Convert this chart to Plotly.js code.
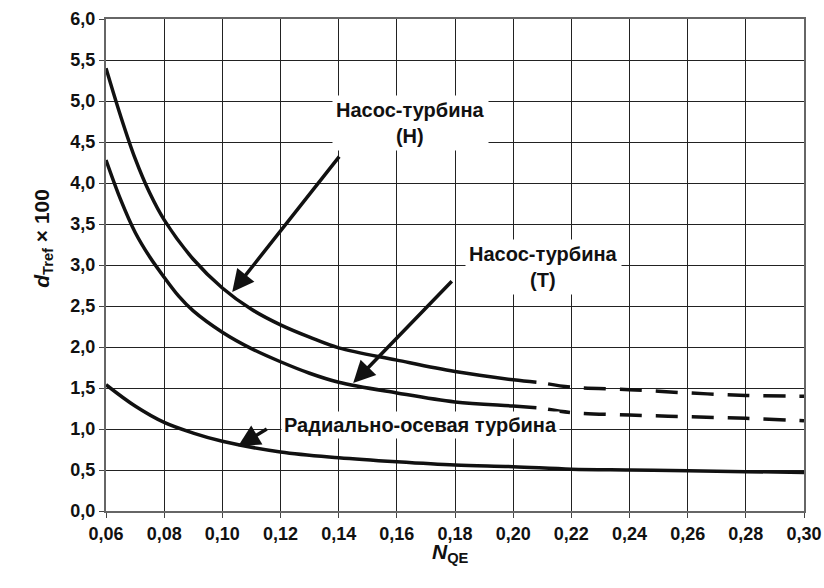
<!DOCTYPE html>
<html>
<head>
<meta charset="utf-8">
<script src="https://cdn.plot.ly/plotly-3.0.1.min.js"></script>
<style>html,body{margin:0;padding:0;background:#fff;}#chart{width:824px;height:588px;}</style>
</head>
<body>
<div id="chart"></div>
<script>
// Pump-turbine (H) curve
const xH = [0.06, 0.065, 0.07, 0.075, 0.08, 0.09, 0.10, 0.11, 0.12, 0.13, 0.14, 0.16, 0.18, 0.20, 0.208];
const yH = [5.40, 4.82, 4.30, 3.88, 3.55, 3.07, 2.72, 2.46, 2.27, 2.12, 1.99, 1.84, 1.70, 1.60, 1.57];
const xHd = [0.212, 0.22, 0.24, 0.26, 0.28, 0.30];
const yHd = [1.55, 1.51, 1.48, 1.44, 1.41, 1.40];
// Pump-turbine (T) curve
const xT = [0.06, 0.065, 0.07, 0.075, 0.08, 0.085, 0.09, 0.10, 0.11, 0.12, 0.13, 0.14, 0.16, 0.18, 0.20, 0.208];
const yT = [4.28, 3.80, 3.40, 3.10, 2.85, 2.62, 2.44, 2.18, 1.98, 1.82, 1.68, 1.57, 1.44, 1.33, 1.28, 1.26];
const xTd = [0.212, 0.22, 0.24, 0.26, 0.28, 0.30];
const yTd = [1.24, 1.20, 1.17, 1.15, 1.13, 1.10];
// Francis (radial-axial) turbine curve
const xR = [0.06, 0.07, 0.08, 0.09, 0.10, 0.12, 0.14, 0.16, 0.18, 0.20, 0.22, 0.24, 0.26, 0.28, 0.30];
const yR = [1.54, 1.28, 1.08, 0.95, 0.85, 0.72, 0.65, 0.60, 0.56, 0.54, 0.51, 0.50, 0.49, 0.48, 0.47];

const xTicks = [0.06, 0.08, 0.10, 0.12, 0.14, 0.16, 0.18, 0.20, 0.22, 0.24, 0.26, 0.28, 0.30];
const yTicks = [0, 0.5, 1, 1.5, 2, 2.5, 3, 3.5, 4, 4.5, 5, 5.5, 6];

const labelH = 'Насос-турбина<br>(Н)';
const labelT = 'Насос-турбина<br>(Т)';
const labelR = 'Радиально-осевая турбина';

const solid = {color: '#111', width: 3.5, shape: 'spline', smoothing: 1};
const dashed = {color: '#111', width: 3.5, dash: '22px,14px', shape: 'spline', smoothing: 1};

const traces = [
  {x: xH, y: yH, mode: 'lines', line: solid, hoverinfo: 'skip'},
  {x: xHd, y: yHd, mode: 'lines', line: dashed, hoverinfo: 'skip'},
  {x: xT, y: yT, mode: 'lines', line: solid, hoverinfo: 'skip'},
  {x: xTd, y: yTd, mode: 'lines', line: dashed, hoverinfo: 'skip'},
  {x: xR, y: yR, mode: 'lines', line: solid, hoverinfo: 'skip'}
];

const fontFam = '"Liberation Sans", Arial, sans-serif';
const annFont = {family: fontFam, size: 20, color: '#111', weight: 700};
const tickFont = {family: fontFam, size: 18, color: '#111', weight: 700};

function arrow(tipX, tipY, tailX, tailY) {
  return {x: tipX, y: tipY, ax: tailX, ay: tailY, xref: 'x', yref: 'y', axref: 'x', ayref: 'y',
    text: '', showarrow: true, arrowhead: 2, arrowsize: 1.25, arrowwidth: 3.5, arrowcolor: '#111', standoff: 0};
}

const layout = {
  width: 824, height: 588,
  margin: {l: 106, r: 20, t: 19, b: 77},
  paper_bgcolor: '#fff', plot_bgcolor: '#fff',
  separators: ', ',
  showlegend: false,
  font: {family: fontFam, size: 18, color: '#111'},
  xaxis: {
    range: [0.06, 0.30], tickvals: xTicks, tickformat: '.2f',
    showgrid: true, gridcolor: '#222', gridwidth: 1,
    showline: true, linecolor: '#666', linewidth: 2, mirror: true,
    ticks: 'outside', ticklen: 5, tickcolor: '#444',
    zeroline: false, tickfont: tickFont
  },
  yaxis: {
    range: [0, 6], tickvals: yTicks, tickformat: '.1f',
    showgrid: true, gridcolor: '#222', gridwidth: 1,
    showline: true, linecolor: '#666', linewidth: 2, mirror: true,
    ticks: 'outside', ticklen: 5, tickcolor: '#444',
    zeroline: false, tickfont: tickFont
  },
  annotations: [
    arrow(0.1034, 2.67, 0.1406, 4.34),
    arrow(0.145, 1.56, 0.1794, 2.82),
    arrow(0.1054, 0.79, 0.1158, 1.01),
    {x: 0.1647, y: 4.73, xref: 'x', yref: 'y', text: labelH, showarrow: false,
      font: annFont, bgcolor: '#fff', align: 'center', borderpad: 3},
    {x: 0.2104, y: 2.98, xref: 'x', yref: 'y', text: labelT, showarrow: false,
      font: annFont, bgcolor: '#fff', align: 'center', borderpad: 3},
    {x: 0.168, y: 1.05, xref: 'x', yref: 'y', text: labelR, showarrow: false,
      font: annFont, bgcolor: '#fff', borderpad: 2},
    {x: -0.112, y: 0.555, xref: 'paper', yref: 'paper', text: '<i>d</i><sub>Tref</sub> × 100',
      textangle: -90, showarrow: false, font: {family: fontFam, size: 21, color: '#111', weight: 700}},
    {x: 0.493, y: -0.116, xref: 'paper', yref: 'paper', text: '<i>N</i><sub>QE</sub>',
      showarrow: false, font: {family: fontFam, size: 21, color: '#111', weight: 700}}
  ]
};

Plotly.newPlot('chart', traces, layout, {staticPlot: true, displayModeBar: false});
</script>
</body>
</html>
